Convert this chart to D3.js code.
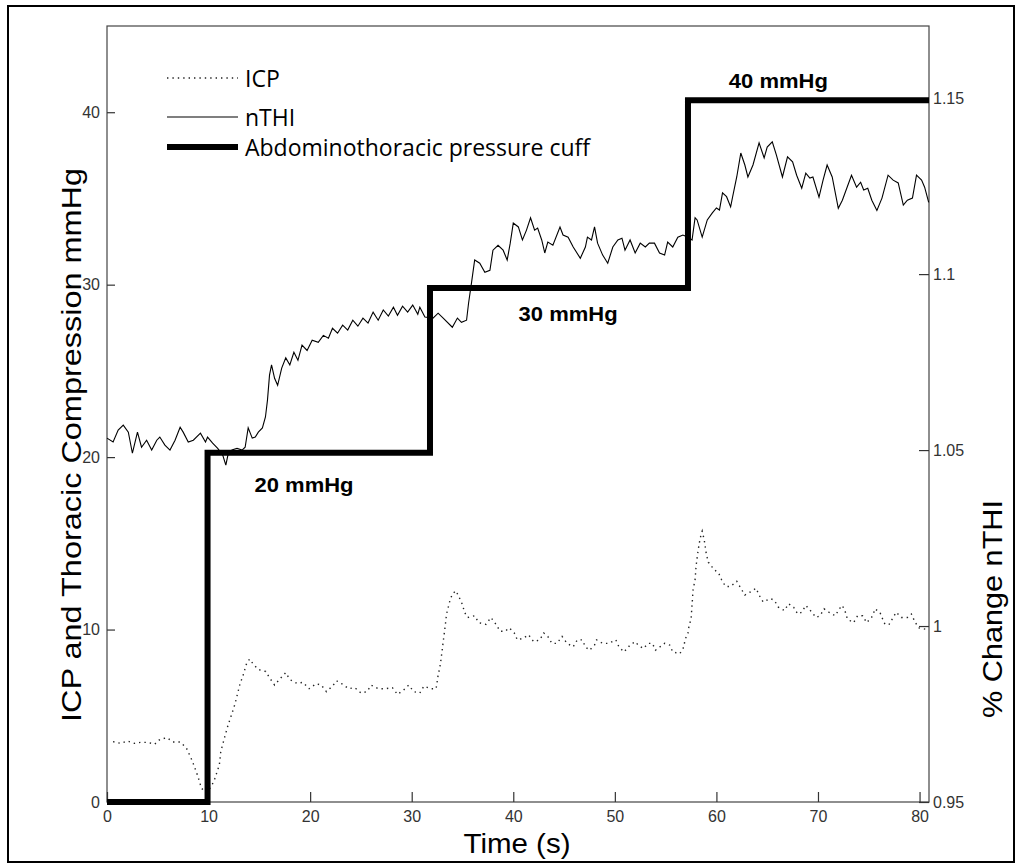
<!DOCTYPE html>
<html>
<head>
<meta charset="utf-8">
<script src="https://cdn.jsdelivr.net/npm/d3@7"></script>
<style>
body { margin: 0; background: #fff; }
svg { display: block; }
</style>
</head>
<body>
<svg width="1021" height="866"></svg>
<script>
// tick values
var xTicks = [0, 10, 20, 30, 40, 50, 60, 70, 80];
var leftTicks = [0, 10, 20, 30, 40];
var rightTicks = [0.95, 1, 1.05, 1.1, 1.15];
var rightTickLabels = ["0.95", "1", "1.05", "1.1", "1.15"];

// cuff pressure steps [time, mmHg]
var cuffSteps = [[0, 0], [9.9, 20.26], [31.8, 29.8], [57.2, 40.7], [80.93, 40.7]];
var stepLabels = ["20 mmHg", "30 mmHg", "40 mmHg"];
var stepLabelPos = [[19.4, 18.0], [45.4, 27.9], [66.1, 41.4]];

// ICP [time, mmHg]
var icpData = [[0.6,3.5],[1.35,3.4],[2.0,3.54],[2.7,3.4],[3.3,3.46],[4.0,3.46],[4.7,3.35],[5.2,3.63],[5.9,3.73],[6.5,3.48],
  [7.2,3.48],[7.8,3.15],[8.4,2.38],[8.9,1.57],[9.1,1.2],[9.3,0.79],[9.8,0.55],[10.3,0.93],[10.6,1.33],[11.06,2.14],
  [11.2,2.92],[11.55,3.69],[11.94,4.5],[12.17,4.89],[12.6,5.68],[13.1,6.86],[13.36,7.27],[13.75,8.04],[14.04,8.29],[14.44,7.96],
  [14.96,7.67],[15.62,7.57],[16.04,7.17],[16.5,6.78],[17.1,7.19],[17.6,7.5],[18.0,7.1],[18.7,6.88],[19.3,6.94],[19.9,6.57],
  [20.6,6.86],[21.1,6.78],[21.6,6.4],[22.2,6.72],[22.6,7.03],[23.1,6.86],[23.8,6.57],[24.4,6.63],[25.0,6.32],[25.6,6.4],
  [26.0,6.78],[26.7,6.57],[27.4,6.57],[28.1,6.63],[28.6,6.24],[29.2,6.49],[29.7,6.78],[30.2,6.4],[30.8,6.32],[31.2,6.72],
  [31.9,6.57],[32.4,6.57],[32.6,7.35],[32.8,7.9],[32.94,8.52],[33.1,9.29],[33.27,10.07],[33.43,10.9],[33.6,11.3],[33.76,11.67],
  [34.0,12.06],[34.35,12.25],[34.68,11.86],[35.0,11.44],[35.2,11.0],[35.5,10.7],[36.2,10.8],[36.6,10.4],[37.3,10.3],[37.8,10.7],
  [38.3,10.3],[38.7,9.9],[39.2,9.9],[39.6,10.1],[40.1,9.8],[40.4,9.4],[41.0,9.5],[41.5,9.7],[42.0,9.3],[42.6,9.4],
  [43.0,9.8],[43.4,9.6],[43.8,9.2],[44.3,9.2],[44.8,9.6],[45.3,9.2],[45.9,9.0],[46.3,9.4],[46.8,9.4],[47.1,9.0],
  [47.5,8.8],[48.0,9.1],[48.2,9.4],[48.8,9.2],[49.4,9.2],[50.1,9.4],[50.4,9.0],[50.9,8.7],[51.5,9.1],[52.0,9.3],
  [52.3,9.1],[52.8,8.9],[53.3,9.2],[53.7,9.2],[54.0,8.8],[54.9,9.2],[55.4,9.1],[55.7,8.7],[56.4,8.6],[56.8,9.0],
  [56.9,9.4],[57.2,9.8],[57.3,10.2],[57.5,10.6],[57.6,11.4],[57.7,12.3],[57.9,12.9],[58.0,13.7],[58.2,14.6],[58.4,15.3],
  [58.6,15.7],[58.8,15.2],[59.0,14.4],[59.2,13.9],[59.4,13.8],[59.7,13.5],[60.2,13.3],[60.5,12.9],[60.9,12.5],[61.4,12.5],
  [62.0,12.8],[62.4,12.4],[62.8,12.0],[63.4,12.2],[63.9,12.4],[64.2,12.0],[64.6,11.6],[65.3,11.8],[65.7,11.7],[66.1,11.3],
  [66.7,11.1],[67.1,11.5],[67.6,11.3],[68.0,10.9],[68.4,11.0],[68.8,11.4],[69.4,11.0],[69.8,10.7],[70.2,10.8],[70.6,11.2],
  [71.1,11.0],[71.7,10.8],[72.1,11.2],[72.4,11.4],[72.7,11.0],[72.9,10.6],[73.5,10.4],[73.9,10.8],[74.4,10.8],[74.8,10.4],
  [75.4,10.8],[75.6,11.2],[76.1,11.0],[76.3,10.7],[76.6,10.3],[77.0,10.3],[77.4,10.7],[77.7,11.0],[78.2,10.7],[78.8,10.7],
  [79.2,10.9],[79.5,10.5],[79.9,10.1],[80.8,10.0]];

// nTHI [time, ratio] (right axis)
var nthiData = [[0,1.0534],[0.6,1.0523],[1.1,1.0557],[1.6,1.0571],[2.1,1.0551],[2.5,1.0491],[3.0,1.0551],[3.4,1.0508],[3.9,1.0528],[4.4,1.05],
  [4.9,1.0528],[5.2,1.0537],[5.7,1.0514],[6.2,1.05],[6.7,1.0528],[7.2,1.0565],[7.5,1.0551],[8.0,1.0523],[8.5,1.0528],[9.2,1.0548],
  [9.7,1.0523],[9.9,1.0537],[10.4,1.052],[10.9,1.0505],[11.4,1.0485],[11.7,1.0457],[11.9,1.0485],[12.3,1.05],[12.8,1.0505],[13.3,1.05],
  [13.6,1.0508],[13.9,1.0563],[14.3,1.0534],[14.6,1.0537],[14.9,1.0551],[15.3,1.0563],[15.6,1.0594],[15.8,1.0642],[16.0,1.0713],[16.2,1.0742],
  [16.5,1.0704],[16.8,1.0684],[17.2,1.0733],[17.6,1.0762],[18.0,1.0742],[18.4,1.0778],[18.8,1.0755],[19.2,1.0798],[19.7,1.0783],[20.2,1.0812],
  [20.8,1.0806],[21.3,1.0826],[21.8,1.0818],[22.2,1.0846],[22.7,1.0832],[23.2,1.0855],[23.7,1.0841],[24.2,1.0869],[24.7,1.0852],[25.2,1.0875],
  [25.7,1.0861],[26.2,1.0892],[26.7,1.0869],[27.2,1.0898],[27.7,1.0881],[28.2,1.0906],[28.6,1.0883],[29.1,1.0909],[29.6,1.0892],[30.1,1.0912],
  [30.6,1.0886],[30.8,1.0906],[31.3,1.0878],[32.1,1.0875],[32.6,1.0889],[33.1,1.0875],[34.0,1.0849],[34.5,1.0875],[34.9,1.0863],[35.4,1.0869],
  [35.6,1.0918],[35.9,1.0978],[36.2,1.104],[36.7,1.1031],[37.2,1.1005],[37.7,1.1011],[38.0,1.1068],[38.5,1.1082],[39.0,1.1068],[39.4,1.104],
  [39.7,1.1088],[40.0,1.1145],[40.5,1.1134],[40.9,1.1097],[41.3,1.1125],[41.7,1.116],[42.1,1.1125],[42.4,1.1131],[42.8,1.1097],[43.1,1.106],
  [43.4,1.1091],[43.9,1.1082],[44.6,1.1134],[44.9,1.1111],[45.4,1.1105],[45.9,1.1077],[46.6,1.1045],[47.1,1.1077],[47.3,1.1105],[47.7,1.1097],
  [48.0,1.1134],[48.3,1.1088],[48.8,1.1054],[49.3,1.1031],[49.8,1.1077],[50.3,1.1097],[50.7,1.1102],[51.0,1.1068],[51.5,1.1097],[52.0,1.106],
  [52.5,1.1088],[53.0,1.1077],[53.4,1.1088],[53.9,1.1088],[54.4,1.106],[54.9,1.1054],[55.2,1.1091],[55.7,1.1077],[56.2,1.1105],[56.7,1.1111],
  [57.2,1.1105],[57.6,1.1097],[57.9,1.116],[58.1,1.1154],[58.6,1.1105],[59.1,1.1154],[59.6,1.1174],[60.0,1.1188],[60.3,1.1182],[60.6,1.1231],
  [61.0,1.122],[61.4,1.1191],[61.6,1.122],[62.0,1.1276],[62.4,1.1344],[62.8,1.131],[63.1,1.1276],[63.6,1.131],[64.2,1.1373],[64.7,1.133],
  [65.0,1.1361],[65.5,1.1376],[65.9,1.1339],[66.5,1.1276],[67.0,1.1333],[67.5,1.1319],[67.9,1.1281],[68.4,1.1244],[68.8,1.1287],[69.2,1.1273],
  [69.5,1.1276],[70.1,1.1219],[70.5,1.1267],[70.9,1.131],[71.4,1.1276],[72.0,1.1187],[72.4,1.121],[73.3,1.1281],[73.8,1.1247],[74.2,1.1261],
  [74.5,1.1239],[74.9,1.1244],[75.3,1.121],[75.8,1.1181],[76.3,1.1216],[76.9,1.1281],[77.4,1.1267],[77.9,1.1259],[78.4,1.1196],[78.8,1.121],
  [79.3,1.1216],[79.7,1.1281],[80.2,1.1267],[80.5,1.1247],[80.9,1.1204]];

var legendNames = ["ICP", "nTHI", "Abdominothoracic pressure cuff"];

var svg = d3.select("svg"),
    margin = {top: 26, right: 92, bottom: 64, left: 107},
    width = +svg.attr("width") - margin.left - margin.right,
    height = +svg.attr("height") - margin.top - margin.bottom;

var x = d3.scaleLinear().domain([0, 80.93]).range([0, width]),
    y = d3.scaleLinear().domain([0, 45]).range([height, 0]),
    y2 = d3.scaleLinear().domain([0.95, 1.1705]).range([height, 0]);

// outer frame
svg.append("rect")
    .attr("x", 8).attr("y", 6)
    .attr("width", 1006).attr("height", 856)
    .attr("fill", "none").attr("stroke", "#000").attr("stroke-width", 2);

var g = svg.append("g")
    .attr("transform", "translate(" + margin.left + "," + margin.top + ")");

g.append("rect")
    .attr("width", width).attr("height", height)
    .attr("fill", "none").attr("stroke", "#444").attr("stroke-width", 1.2);

function styleAxis(sel) {
    sel.select(".domain").remove();
    sel.selectAll("line").attr("stroke", "#333").attr("stroke-width", 1.2);
    sel.selectAll("text")
        .style("font-family", "'Liberation Sans', Arial, sans-serif")
        .style("font-size", "16px")
        .attr("fill", "#333");
}

g.append("g")
    .attr("transform", "translate(0," + height + ")")
    .call(d3.axisBottom(x).tickValues(xTicks).tickSizeInner(-10).tickSizeOuter(0).tickPadding(9))
    .call(styleAxis);

g.append("g")
    .call(d3.axisLeft(y).tickValues(leftTicks).tickSizeInner(-8).tickSizeOuter(0).tickPadding(7))
    .call(styleAxis);

g.append("g")
    .attr("transform", "translate(" + width + ",0)")
    .call(d3.axisRight(y2).tickValues(rightTicks).tickSizeInner(-10).tickSizeOuter(0).tickPadding(4)
        .tickFormat(function(d, i) { return rightTickLabels[i]; }))
    .call(styleAxis);

// ICP dotted
g.append("path")
    .datum(icpData)
    .attr("fill", "none")
    .attr("stroke", "#222")
    .attr("stroke-width", 1.4)
    .attr("stroke-dasharray", "1.4,4")
    .attr("d", d3.line().x(function(d) { return x(d[0]); }).y(function(d) { return y(d[1]); }));

// nTHI solid on right axis
g.append("path")
    .datum(nthiData)
    .attr("fill", "none")
    .attr("stroke", "#000")
    .attr("stroke-width", 1.1)
    .attr("d", d3.line().x(function(d) { return x(d[0]); }).y(function(d) { return y2(d[1]); }));

// cuff steps
g.append("path")
    .datum(cuffSteps)
    .attr("fill", "none")
    .attr("stroke", "#000")
    .attr("stroke-width", 6)
    .attr("stroke-linejoin", "miter")
    .attr("d", d3.line().curve(d3.curveStepAfter).x(function(d) { return x(d[0]); }).y(function(d) { return y(d[1]); }));

g.selectAll(".steplabel")
    .data(stepLabels)
    .enter().append("text")
    .attr("class", "steplabel")
    .attr("x", function(d, i) { return x(stepLabelPos[i][0]); })
    .attr("y", function(d, i) { return y(stepLabelPos[i][1]); })
    .attr("text-anchor", "middle")
    .attr("textLength", 99)
    .attr("lengthAdjust", "spacingAndGlyphs")
    .style("font-family", "'Liberation Sans', Arial, sans-serif")
    .style("font-weight", "bold")
    .style("font-size", "20px")
    .text(function(d) { return d; });

// legend
var leg = svg.append("g");
var legY = [78, 117, 147];
leg.append("line").attr("x1", 167).attr("x2", 238).attr("y1", legY[0]).attr("y2", legY[0])
    .attr("stroke", "#222").attr("stroke-width", 1.4).attr("stroke-dasharray", "1.4,4");
leg.append("line").attr("x1", 167).attr("x2", 238).attr("y1", legY[1]).attr("y2", legY[1])
    .attr("stroke", "#000").attr("stroke-width", 1.1);
leg.append("line").attr("x1", 167).attr("x2", 238).attr("y1", legY[2]).attr("y2", legY[2])
    .attr("stroke", "#000").attr("stroke-width", 6);
leg.selectAll("text")
    .data(legendNames)
    .enter().append("text")
    .attr("x", 245)
    .attr("y", function(d, i) { return legY[i] + 9; })
    .style("font-family", "'Open Sans', sans-serif")
    .style("font-size", "23px")
    .attr("fill", "#000")
    .text(function(d) { return d; });

// axis titles
svg.append("text")
    .attr("x", 517).attr("y", 853)
    .attr("text-anchor", "middle")
    .attr("textLength", 107).attr("lengthAdjust", "spacingAndGlyphs")
    .style("font-family", "'Liberation Sans', Arial, sans-serif")
    .style("font-size", "28px")
    .text("Time (s)");

svg.append("text")
    .attr("transform", "translate(81,445) rotate(-90)")
    .attr("text-anchor", "middle")
    .attr("textLength", 554).attr("lengthAdjust", "spacingAndGlyphs")
    .style("font-family", "'Liberation Sans', Arial, sans-serif")
    .style("font-size", "28px")
    .text("ICP and Thoracic Compression mmHg");

svg.append("text")
    .attr("transform", "translate(1002,609) rotate(-90)")
    .attr("text-anchor", "middle")
    .attr("textLength", 218).attr("lengthAdjust", "spacingAndGlyphs")
    .style("font-family", "'Liberation Sans', Arial, sans-serif")
    .style("font-size", "28px")
    .text("% Change nTHI");
</script>
</body>
</html>
